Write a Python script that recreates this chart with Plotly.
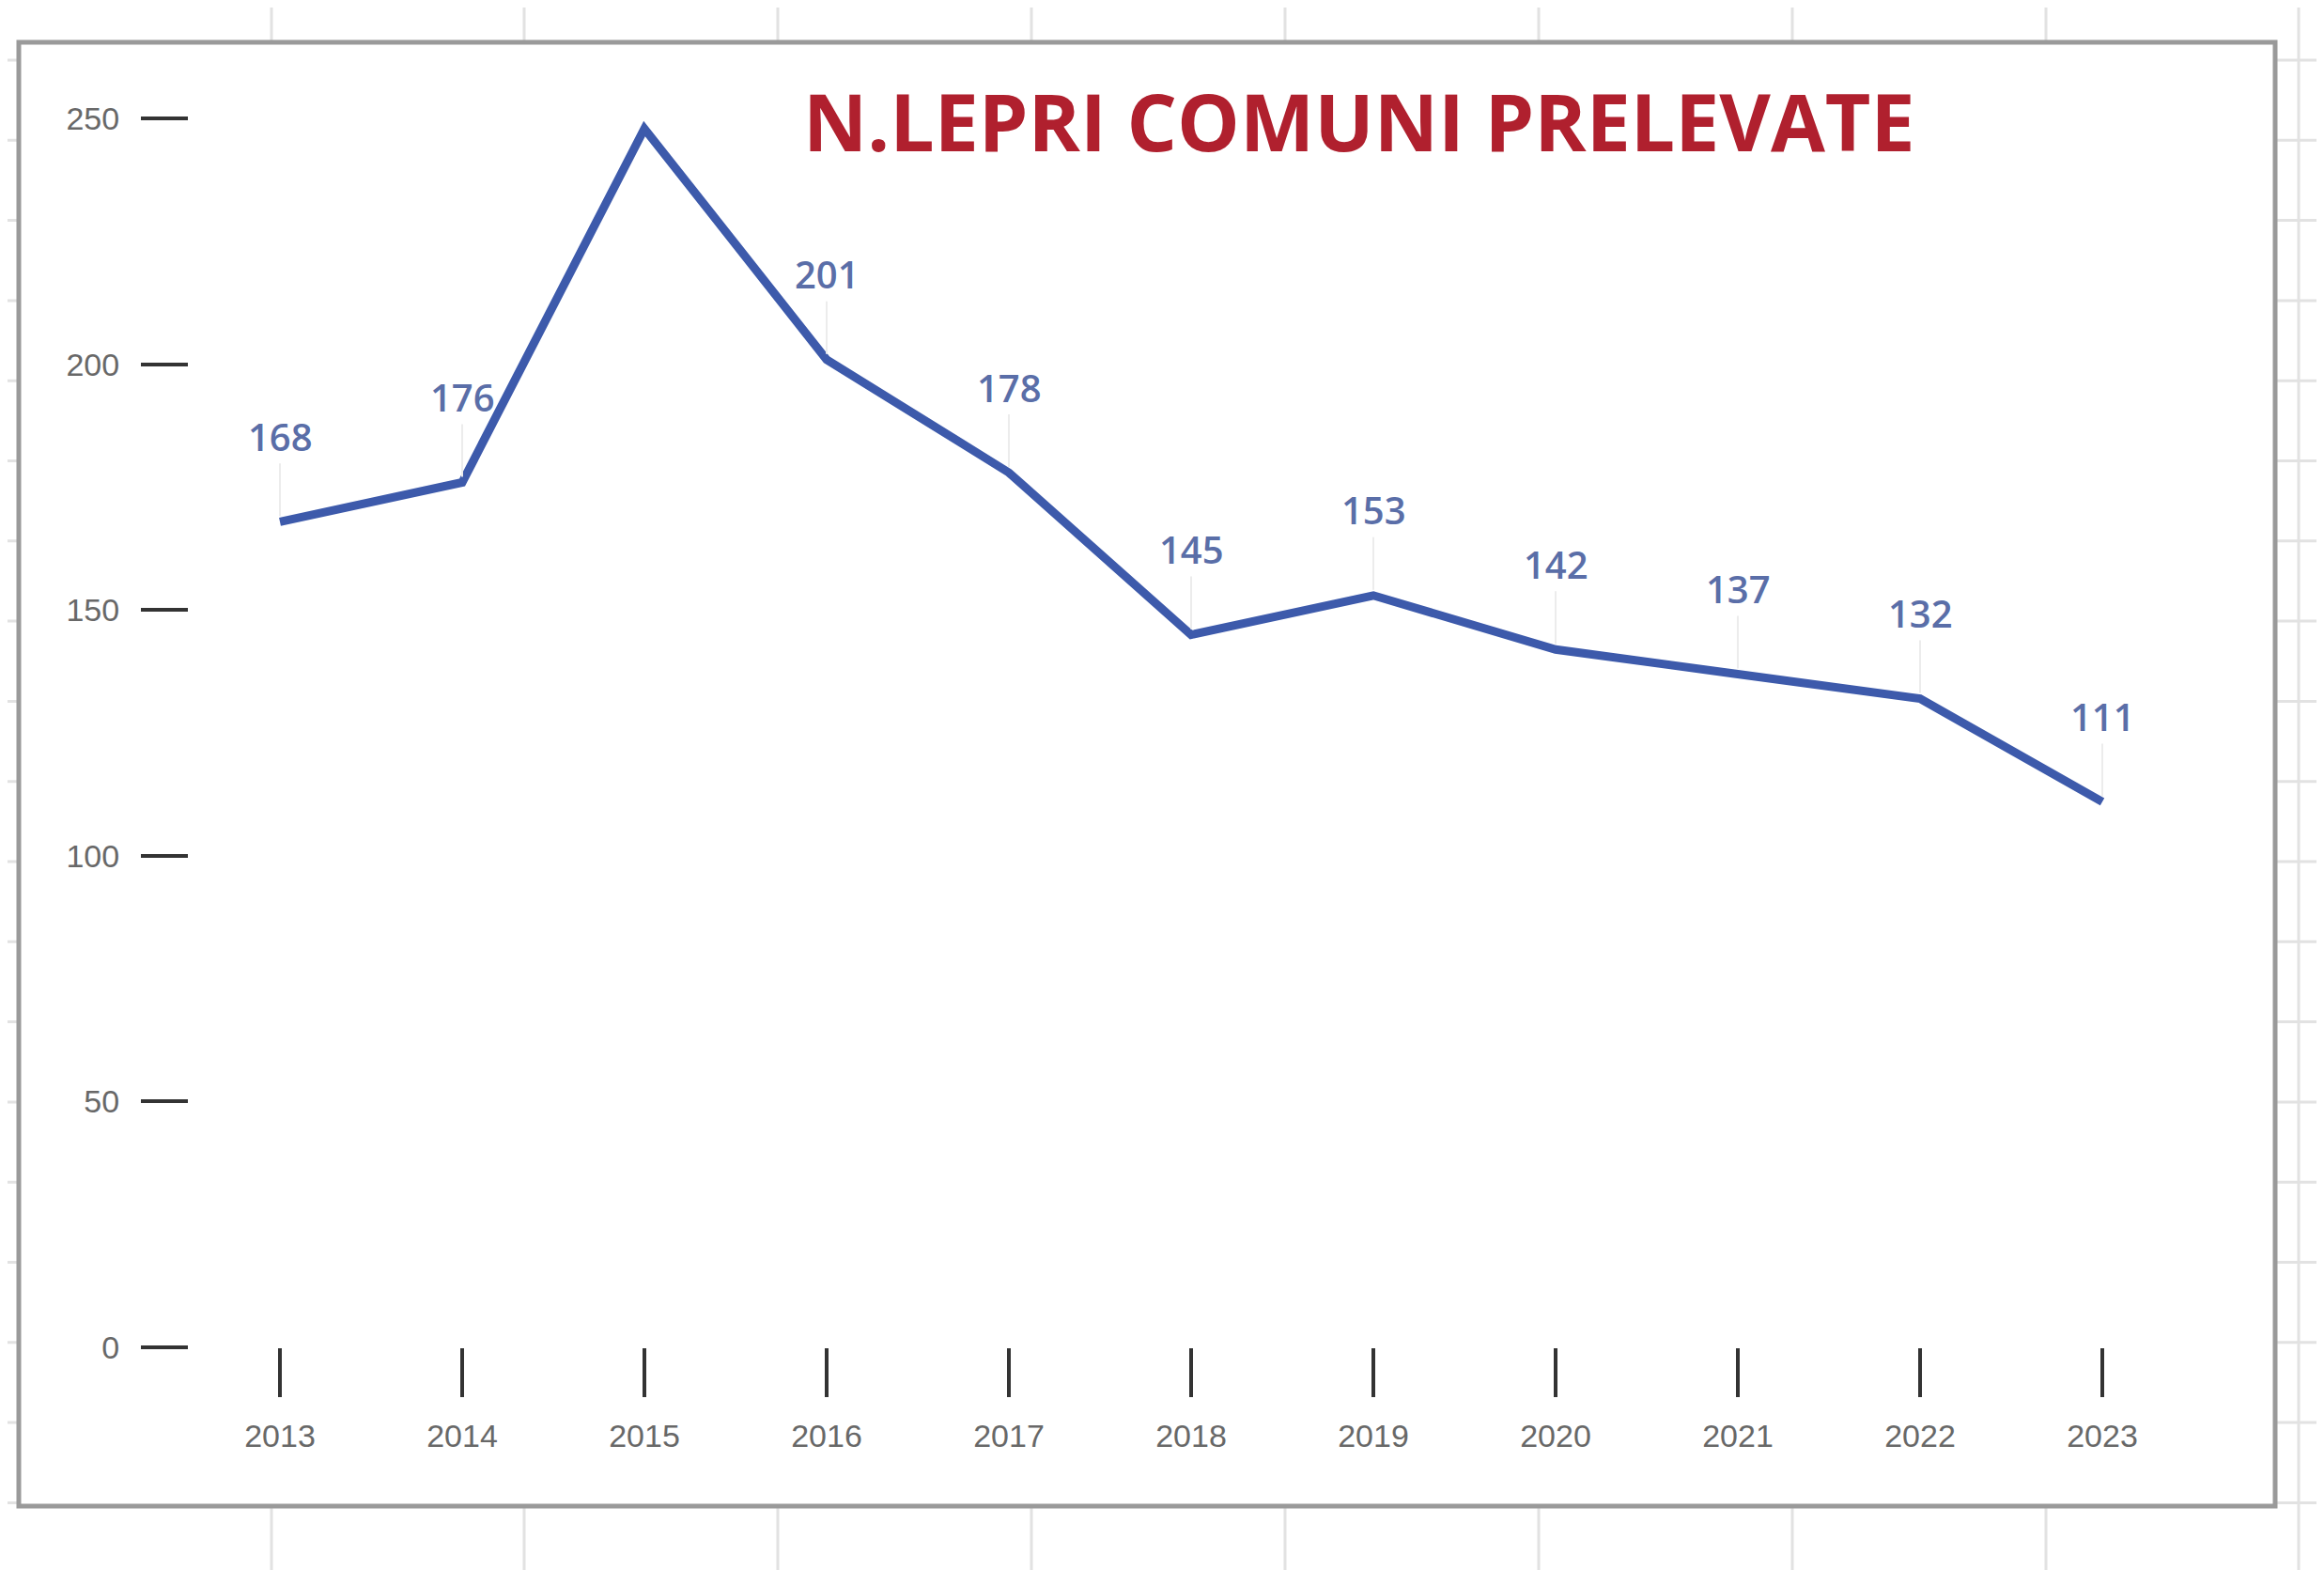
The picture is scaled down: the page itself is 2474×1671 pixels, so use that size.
import plotly.graph_objects as go

years = [2013, 2014, 2015, 2016, 2017, 2018, 2019, 2020, 2021, 2022, 2023]
lepri = [168, 176, 248, 201, 178, 145, 153, 142, 137, 132, 111]
labelled = [True, True, False, True, True, True, True, True, True, True, True]
y_ticks = [0, 50, 100, 150, 200, 250]
title_text = "N.LEPRI COMUNI PRELEVATE"

W, H = 2474, 1671
OFF = 8  # page body margin
L, R, T, B = 201 - OFF, 2335 - OFF, 48 - OFF, 1434 - OFF


def px(xp):
    return (xp - OFF - L) / (R - L)


def py(yp):
    return (B - (yp - OFF)) / (B - T)


fig = go.Figure()
fig.add_trace(go.Scatter(
    x=years, y=lepri, mode="lines",
    line=dict(color="#3d5aab", width=9),
    hoverinfo="skip", showlegend=False,
))

shapes = []
# spreadsheet grid behind the chart
for xv in [289, 558, 828, 1098, 1368, 1638, 1908, 2178, 2447]:
    shapes.append(dict(type="line", xref="paper", yref="paper",
                       x0=px(xv), x1=px(xv), y0=py(0), y1=py(H + 20),
                       line=dict(color="#e2e2e2", width=3), layer="below"))
yv = 64
while yv < H + 20:
    shapes.append(dict(type="line", xref="paper", yref="paper",
                       x0=px(0), x1=px(W + 20), y0=py(yv), y1=py(yv),
                       line=dict(color="#e2e2e2", width=3), layer="below"))
    yv += 85.3
# chart frame
shapes.append(dict(type="rect", xref="paper", yref="paper",
                   x0=px(20), x1=px(2422), y0=py(1603), y1=py(45),
                   fillcolor="white", line=dict(color="#9a9a9a", width=5),
                   layer="below"))

annotations = []
for yr, v, lab in zip(years, lepri, labelled):
    if not lab:
        continue
    annotations.append(dict(
        x=yr, y=v, xref="x", yref="y", text=str(v),
        showarrow=True, arrowhead=0, arrowwidth=2, arrowcolor="#ececec",
        ax=0, ay=-91, standoff=6,
        font=dict(family="Open Sans", size=40, color="#5a6ea8", weight=600),
    ))
annotations.append(dict(
    x=px(1447), y=py(128), xref="paper", yref="paper",
    text="<b>" + title_text + "</b>", showarrow=False,
    xanchor="center", yanchor="middle",
    font=dict(family="Open Sans", size=84, color="#b0202e"),
))

tickfont = dict(family="Liberation Sans", size=34, color="#686868")
fig.update_layout(
    width=W, height=H,
    margin=dict(l=L, r=W - R, t=T, b=H - B, pad=0),
    paper_bgcolor="white", plot_bgcolor="rgba(0,0,0,0)",
    shapes=shapes, annotations=annotations, showlegend=False,
    xaxis=dict(range=[2012.5, 2023.5], tickvals=years,
               ticktext=[str(y) for y in years],
               showgrid=False, zeroline=False, showline=False,
               ticks="outside", ticklen=52, tickwidth=4, tickcolor="#333333",
               ticklabelstandoff=12, tickfont=tickfont),
    yaxis=dict(range=[0, 265], tickvals=y_ticks,
               showgrid=False, zeroline=False, showline=False,
               ticks="outside", ticklen=50, tickwidth=4, tickcolor="#333333",
               ticklabelstandoff=16, tickfont=tickfont),
)

fig.write_html("out.html")
